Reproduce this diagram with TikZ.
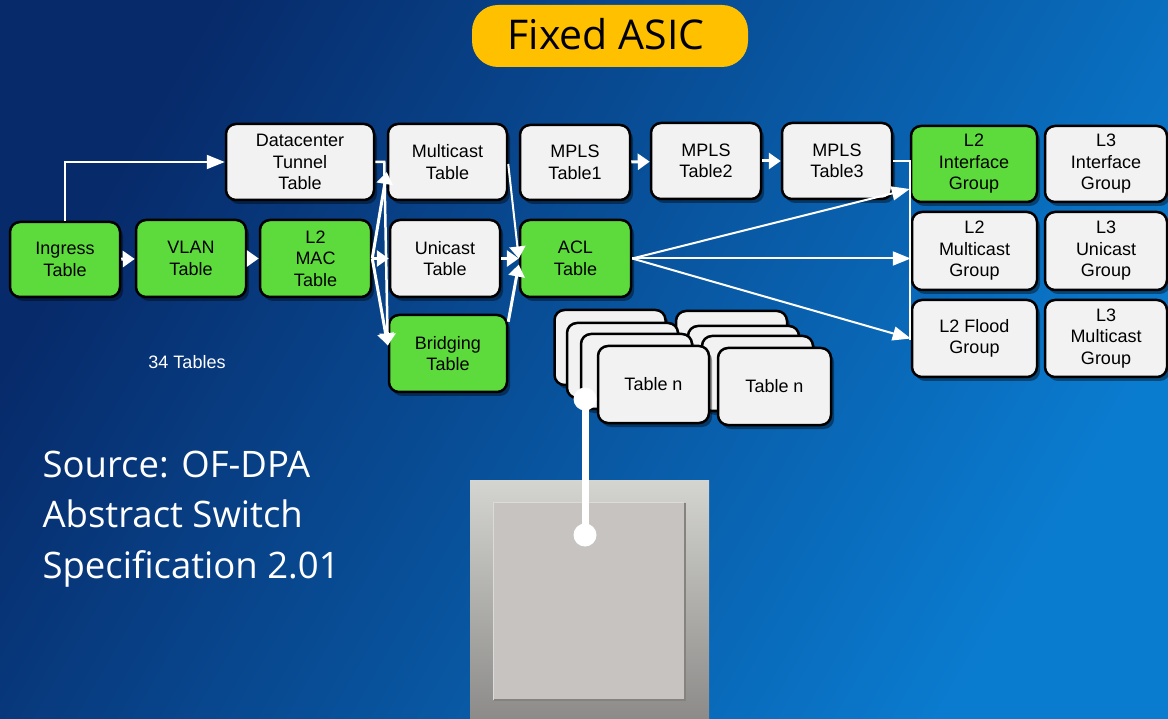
\documentclass[tikz,border=0pt]{standalone}
\usepackage{fontspec}
\setmainfont{Liberation Sans}
\newfontfamily\segfont{Open Sans}
\usetikzlibrary{arrows.meta,shadows}
\definecolor{boxgreen}{HTML}{5DDB3D}
\definecolor{boxgrey}{HTML}{F2F2F2}
\definecolor{bgUL}{HTML}{072A6A}
\definecolor{bgMid}{HTML}{0A52A2}
\definecolor{bgLR}{HTML}{0A7CD0}
\definecolor{gold}{HTML}{FFC000}
\definecolor{sqtop}{HTML}{D4D4D0}
\definecolor{sqmid}{HTML}{C2C1BD}
\definecolor{sqbot}{HTML}{8C8B89}
\definecolor{sqin}{HTML}{C7C3C0}
\definecolor{sqedge}{HTML}{86837F}
\begin{document}
\begin{tikzpicture}[x=1pt,y=-1pt,
  tbox/.style={draw=black, line width=2.5pt, rounded corners=10pt, fill=boxgrey,
    align=center, inner sep=0pt, text=black,
    font=\fontsize{18}{21.5}\selectfont,
    drop shadow={shadow xshift=3pt, shadow yshift=-4pt, opacity=0.4, fill=black}},
  gbox/.style={tbox, fill=boxgreen},
  flow/.style={white, line width=3pt, -{Triangle[length=12pt,width=16pt]}},
  thinflow/.style={white, line width=2pt, -{Triangle[length=18pt,width=14pt]}},
  dot/.style={circle, fill=white, inner sep=0pt, minimum size=23pt},
]
\useasboundingbox (0,0) rectangle (1168,719);
\shade[top color=bgUL, middle color=bgMid, bottom color=bgLR, shading angle=60] (0,0) rectangle (1168,719);

% title
\node[fill=gold, rounded corners=26pt, minimum width=276pt, minimum height=62pt,
  text=black] (title) at (610,36) {};
\node[font=\segfont\fontsize{41}{45}\selectfont, text=black] (titletext) at (606,34) {Fixed ASIC};

% main pipeline boxes
\node[gbox, minimum width=110pt, minimum height=75pt] (ingress) at (65,259.5) {Ingress\\Table};
\node[gbox, minimum width=110pt, minimum height=77pt] (vlan) at (191,258.5) {VLAN\\Table};
\node[gbox, minimum width=111pt, minimum height=77pt] (l2mac) at (315.5,258.5) {L2\\MAC\\Table};
\node[tbox, minimum width=148pt, minimum height=76pt] (dc) at (300,162) {Datacenter\\Tunnel\\Table};
\node[tbox, minimum width=119pt, minimum height=76pt] (multicast) at (447.5,162) {Multicast\\Table};
\node[tbox, minimum width=110pt, minimum height=77pt] (unicast) at (445,258.5) {Unicast\\Table};
\node[gbox, minimum width=118pt, minimum height=77pt] (bridging) at (448,353.5) {Bridging\\Table};
\node[tbox, minimum width=110pt, minimum height=75pt] (mpls1) at (575,162.5) {MPLS\\Table1};
\node[tbox, minimum width=110pt, minimum height=76pt] (mpls2) at (706,161) {MPLS\\Table2};
\node[tbox, minimum width=110pt, minimum height=76pt] (mpls3) at (837,161) {MPLS\\Table3};
\node[gbox, minimum width=111pt, minimum height=77pt] (acl) at (575.5,258.5) {ACL\\Table};

% group boxes
\node[gbox, minimum width=126pt, minimum height=76pt] (l2if) at (974,164) {L2\\Interface\\Group};
\node[tbox, minimum width=122pt, minimum height=76pt] (l3if) at (1106,164) {L3\\Interface\\Group};
\node[tbox, minimum width=125pt, minimum height=78pt] (l2mc) at (974.5,251) {L2\\Multicast\\Group};
\node[tbox, minimum width=122pt, minimum height=78pt] (l3uc) at (1106,251) {L3\\Unicast\\Group};
\node[tbox, minimum width=125pt, minimum height=77pt] (l2fl) at (974.5,338.5) {L2 Flood\\Group};
\node[tbox, minimum width=122pt, minimum height=77pt] (l3mc) at (1106,338.5) {L3\\Multicast\\Group};

% stacks of tables
\node[tbox, minimum width=111pt, minimum height=75pt] (sa1) at (610,347.5) {};
\node[tbox, minimum width=111pt, minimum height=75pt] (sb1) at (731.5,348.5) {};
\node[tbox, minimum width=111pt, minimum height=75pt] (sa2) at (622.5,360.5) {};
\node[tbox, minimum width=111pt, minimum height=75pt] (sb2) at (743.5,363.5) {};
\node[tbox, minimum width=111pt, minimum height=75pt] (sa3) at (636.5,371.5) {};
\node[tbox, minimum width=111pt, minimum height=75pt] (sb3) at (757.5,373.5) {};
\node[tbox, minimum width=111pt, minimum height=77pt] (sa4) at (653.5,384.5) {Table n};
\node[tbox, minimum width=113pt, minimum height=77pt] (sb4) at (774.5,386.5) {Table n};

% connectors
\draw[flow] (ingress) -- (vlan);
\draw[flow] (vlan) -- (l2mac);
\draw[thinflow] (ingress.north) |- (dc.west);
\draw[flow, line width=2.5pt] (dc.east) -- ++(9,0) -- ([yshift=8pt]bridging.west);
\draw[flow] (l2mac.east) -- ([yshift=-10pt]multicast.west);
\draw[flow] (l2mac.east) -- (unicast.west);
\draw[flow] (l2mac.east) -- ([yshift=8pt]bridging.west);
\draw[thinflow, -{Triangle[length=12pt,width=16pt]}] ([yshift=-2pt]multicast.east) -- (acl.west);
\draw[flow] (unicast.east) -- (acl.west);
\draw[flow] ([yshift=-8pt]bridging.north east) -- ([yshift=-6pt]acl.west);
\draw[flow] (mpls1) -- (mpls2);
\draw[flow] (mpls2) -- (mpls3);
\coordinate (brk) at (910,340);
\draw[white, line width=1.5pt] (mpls3.east) -- (mpls3.east -| brk) -- (brk);
\draw[thinflow] (acl.east) -- ([yshift=-25pt]l2if.west);
\draw[thinflow] (acl.east) -- (acl.east -| l2mc.west);
\draw[thinflow] (acl.east) -- (l2fl.west);

% notes
\node[text=white, font=\fontsize{18}{21}\selectfont] (count) at (187,362) {34 Tables};
\node[anchor=base west, text=white, font=\segfont\fontsize{36.5}{44}\selectfont] (src1) at (39,477) {Source: OF-DPA};
\node[anchor=base west, text=white, font=\segfont\fontsize{36.5}{44}\selectfont] (src2) at (39,527) {Abstract Switch};
\node[anchor=base west, text=white, font=\segfont\fontsize{36.5}{44}\selectfont] (src3) at (39,578) {Specification 2.01};

% grey square (chip)
\shade[top color=sqtop, middle color=sqmid, bottom color=sqbot] (470,480) rectangle (709,719);
\fill[sqin] (493,502) rectangle (685,700);
\draw[sqedge, line width=2pt] (685,503) -- (685,700) -- (494,700);
\draw[white!40!sqin, line width=1pt] (493,700) -- (493,502) -- (684,502);
\coordinate (chip) at (585,535);

% link
\node[dot] (dot1) at (585,399) {};
\node[dot] (dot2) at (chip) {};
\draw[white, line width=7pt] (dot1.center) -- (dot2.center);
\end{tikzpicture}
\end{document}
